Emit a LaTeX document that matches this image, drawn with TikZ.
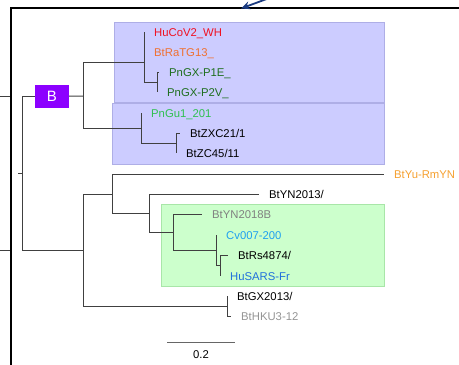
\documentclass[tikz,border=0pt]{standalone}
\usepackage{fontspec}
\setmainfont{Liberation Sans}
\usepackage{tikz}
\usetikzlibrary{positioning, arrows.meta, calc}
\usepackage{xcolor}
\definecolor{clBlue}{HTML}{CCCCFF}
\definecolor{clBlueEdge}{HTML}{AEAEE6}
\definecolor{clGreen}{HTML}{CCFFCC}
\definecolor{clGreenEdge}{HTML}{A8E6A8}
\definecolor{cRed}{HTML}{F01020}
\definecolor{cOrange}{HTML}{F07030}
\definecolor{cDkGreen}{HTML}{1E6E1E}
\definecolor{cLtGreen}{HTML}{30C050}
\definecolor{cYellow}{HTML}{F5A030}
\definecolor{cSky}{HTML}{1EA0F0}
\definecolor{cBlue}{HTML}{2070DC}
\definecolor{cPurple}{HTML}{8C00FF}
\definecolor{cNavy}{HTML}{1A3A80}

\begin{document}
\begin{tikzpicture}[x=1pt, y=-1pt,
  branch/.style={draw=black!75, line width=1pt},
  leaf/.style={anchor=west, inner xsep=10pt, inner ysep=0pt, text height=8pt, text depth=0pt, font=\fontsize{11.3}{13}\selectfont},
  clade/.style={line width=0.8pt}]
\useasboundingbox (0,0) rectangle (459,365);

% clade boxes
\draw[clade, fill=clBlue, draw=clBlueEdge] (114,22) rectangle (384,102);
\draw[clade, fill=clBlue, draw=clBlueEdge] (112,103) rectangle (384,164);
\draw[clade, fill=clGreen, draw=clGreenEdge] (161,204) rectangle (384,286);

% frame and pointer
\draw[line width=1.8pt] (11,366) -- (11,8) -- (460,8);
\coordinate (p0) at (272,-3);
\coordinate (p1) at (241,8.5);
\draw[-{Stealth[length=9pt,width=8pt]}, cNavy, line width=1.8pt] (p0) -- (p1);
\coordinate (o1) at (0,96);   \coordinate (f1) at (10,96);
\coordinate (o2) at (0,250);  \coordinate (f2) at (10,250);
\draw[branch] (o1) -- (f1);
\draw[branch] (o2) -- (f2);

% internal nodes
\coordinate (stub) at (18,173);
\coordinate (root) at (22,173);
\coordinate (nB) at (83,96);
\coordinate (u1) at (144,62);
\coordinate (u2) at (157,82);
\coordinate (l1) at (141,128);
\coordinate (l2) at (176,143);
\coordinate (c2) at (83,250);
\coordinate (c3) at (112,194);
\coordinate (c4) at (149,213);
\coordinate (c5) at (173,232);
\coordinate (c6) at (216,250);
\coordinate (c7) at (220,265);
\coordinate (c8) at (227,306);

\node[fill=cPurple, text=white, minimum width=34pt, minimum height=23pt, inner sep=0pt,
  font=\fontsize{15}{16}\selectfont] (B) at (52,96.5) {B};

% leaves
\node[leaf, text=cRed] (hucov) at (144,32) {HuCoV2\_WH};
\node[leaf, text=cOrange] (ratg) at (144,52) {BtRaTG13\_};
\node[leaf, text=cDkGreen] (p1e) at (159,72) {PnGX-P1E\_};
\node[leaf, text=cDkGreen] (p2v) at (157,92) {PnGX-P2V\_};
\node[leaf, text=cLtGreen] (pngu) at (141,113) {PnGu1\_201};
\node[leaf] (zxc) at (180,133) {BtZXC21/1};
\node[leaf] (zc45) at (176,153) {BtZC45/11};
\node[leaf, text=cYellow] (rmyn) at (384,174) {BtYu-RmYN};
\node[leaf] (yn13) at (259,194) {BtYN2013/};
\node[leaf, text=black!50] (yn18) at (202,214) {BtYN2018B};
\node[leaf, text=cSky] (cv) at (216,235) {Cv007-200};
\node[leaf] (rs) at (228,255) {BtRs4874/};
\node[leaf, text=cBlue] (sars) at (220,276) {HuSARS-Fr};
\node[leaf] (gx) at (227,296) {BtGX2013/};
\node[leaf, text=black!42] (hku) at (231,316) {BtHKU3-12};

% branches
\draw[branch] (stub) -- (root);
\draw[branch] (root) |- (B);
\draw[branch] (root) |- (c2);
\draw[branch] (B) -- (nB);
\draw[branch] (nB) |- (u1);
\draw[branch] (nB) |- (l1);
\draw[branch] (u1) |- (hucov);
\draw[branch] (u1) |- (ratg);
\draw[branch] (u1) |- (u2);
\draw[branch] (u2) |- (p1e);
\draw[branch] (u2) |- (p2v);
\draw[branch] (l1) |- (pngu);
\draw[branch] (l1) |- (l2);
\draw[branch] (l2) |- (zxc);
\draw[branch] (l2) |- (zc45);
\draw[branch] (c2) |- (c3);
\draw[branch] (c2) |- (c8);
\draw[branch] (c3) |- (rmyn);
\draw[branch] (c3) |- (c4);
\draw[branch] (c4) |- (yn13);
\draw[branch] (c4) |- (c5);
\draw[branch] (c5) |- (yn18);
\draw[branch] (c5) |- (c6);
\draw[branch] (c6) |- (cv);
\draw[branch] (c6) |- (c7);
\draw[branch] (c7) |- (rs);
\draw[branch] (c7) |- (sars);
\draw[branch] (c8) |- (gx);
\draw[branch] (c8) |- (hku);

% scale bar
\coordinate (s0) at (167,342);
\coordinate (s1) at (235,342);
\draw[branch, draw=black!60] (s0) -- (s1);
\node[font=\fontsize{11.3}{13}\selectfont, inner sep=0pt] (sc) at (201,355) {0.2};
\end{tikzpicture}
\end{document}
